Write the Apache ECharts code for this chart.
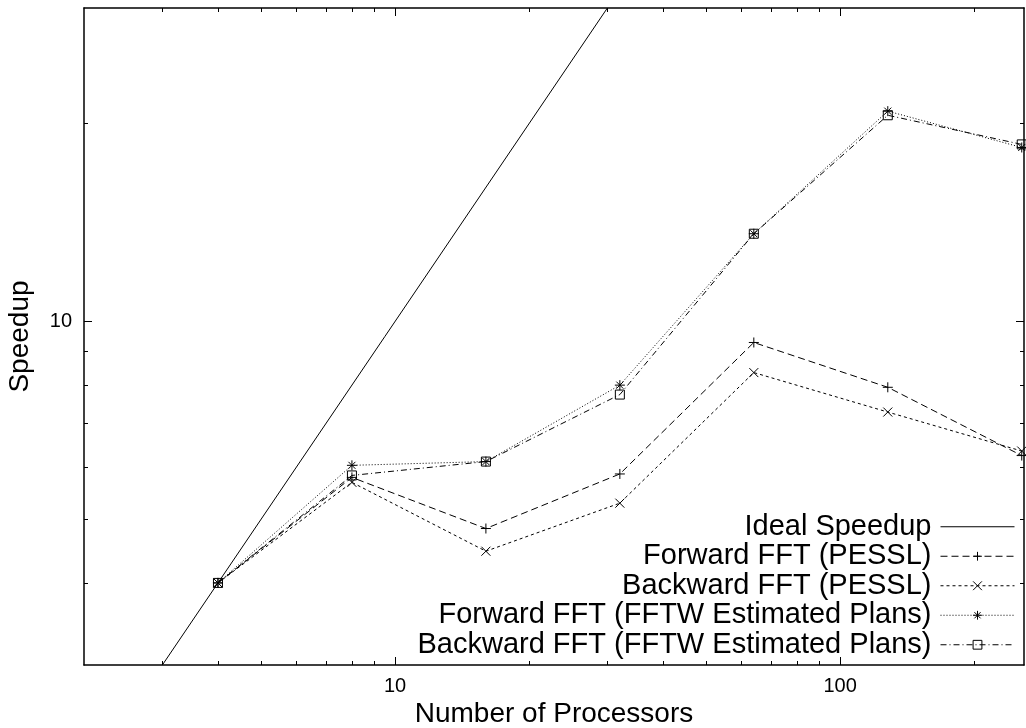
<!DOCTYPE html>
<html>
<head>
<meta charset="utf-8">
<script src="https://cdn.jsdelivr.net/npm/echarts@6/dist/echarts.min.js"></script>
<style>
html,body{margin:0;padding:0;background:#fff;}
#chart{width:1026px;height:728px;}
</style>
</head>
<body>
<div id="chart"></div>
<script>
// ---- data ----
const procs = [4, 8, 16, 32, 64, 128, 256];
const fwdPessl = [4.0, 5.79, 4.84, 5.86, 9.29, 7.94, 6.25];
const bwdPessl = [4.0, 5.69, 4.47, 5.29, 8.36, 7.28, 6.35];
const fwdFftw  = [4.0, 6.04, 6.12, 8.0, 13.6, 20.9, 18.4];
const bwdFftw  = [4.0, 5.83, 6.12, 7.74, 13.6, 20.6, 18.6];
const idealX = [3, 30];
const seriesNames = ['Ideal Speedup', 'Forward FFT (PESSL)', 'Backward FFT (PESSL)',
  'Forward FFT (FFTW Estimated Plans)', 'Backward FFT (FFTW Estimated Plans)'];
const xMajor = [10, 100];
const xMinor = [3, 4, 5, 6, 7, 8, 9, 20, 30, 40, 50, 60, 70, 80, 90, 200];
const yMajor = [10];
const yMinor = [4, 5, 6, 7, 8, 9, 20];
const xTitle = 'Number of Processors';
const yTitle = 'Speedup';

const FONT = '"Liberation Sans", Arial, Helvetica, sans-serif';
const X_MIN = 2, X_MAX = 259, Y_MIN = 3, Y_MAX = 30;

function pairs(xs, ys) { return xs.map((x, i) => [x, ys[i]]); }

function xAx(pos, ticks, len, opts) {
  return Object.assign({
    type: 'log', logBase: 10, min: X_MIN, max: X_MAX, position: pos,
    axisLine: { show: false },
    axisTick: { show: true, inside: true, length: len, customValues: ticks,
      lineStyle: { color: '#000', width: 1 } },
    axisLabel: { show: false },
    splitLine: { show: false }
  }, opts || {});
}
function yAx(pos, ticks, len, opts) {
  return Object.assign({
    type: 'log', logBase: 10, min: Y_MIN, max: Y_MAX, position: pos,
    axisLine: { show: false },
    axisTick: { show: true, inside: true, length: len, customValues: ticks,
      lineStyle: { color: '#000', width: 1 } },
    axisLabel: { show: false },
    splitLine: { show: false }
  }, opts || {});
}

const lineBorder = { show: true, onZero: false, lineStyle: { color: '#000', width: 1.5 } };

const option = {
  animation: false,
  backgroundColor: '#fff',
  textStyle: { fontFamily: FONT },
  grid: { left: 84, right: 2, top: 8, bottom: 63, containLabel: false, outerBoundsMode: 'none' },
  xAxis: [
    xAx('bottom', xMajor, 8, {
      axisLine: lineBorder,
      axisLabel: { show: true, customValues: xMajor, fontSize: 20, color: '#000',
        fontFamily: FONT, margin: 11 },
      name: xTitle, nameLocation: 'middle', nameGap: 35, nameMoveOverlap: false,
      nameTextStyle: { fontSize: 28, color: '#000', fontFamily: FONT }
    }),
    xAx('bottom', xMinor, 4),
    xAx('top', xMajor, 8, { axisLine: lineBorder }),
    xAx('top', xMinor, 4)
  ],
  yAxis: [
    yAx('left', yMajor, 8, {
      axisLine: lineBorder,
      axisLabel: { show: true, customValues: yMajor, fontSize: 20, color: '#000',
        fontFamily: FONT, margin: 12 },
      name: yTitle, nameLocation: 'middle', nameGap: 50, nameRotate: 90, nameMoveOverlap: false,
      nameTextStyle: { fontSize: 28, color: '#000', fontFamily: FONT }
    }),
    yAx('left', yMinor, 4),
    yAx('right', yMajor, 8, { axisLine: lineBorder }),
    yAx('right', yMinor, 4)
  ],
  legend: {
    orient: 'vertical', right: 6, top: 507, align: 'right',
    itemWidth: 74, itemHeight: 11, itemGap: 0,
    lineStyle: { width: 1 },
    itemStyle: { borderWidth: 1 },
    textStyle: { fontSize: 29, color: '#000', fontFamily: FONT, lineHeight: 29.5,
      padding: [0, 4, 0, 0] },
    data: seriesNames
  },
  series: [
    {
      name: seriesNames[0], type: 'line', showSymbol: false,
      symbol: 'path://M0,0L10,10', symbolSize: 1,
      data: pairs(idealX, idealX),
      lineStyle: { color: '#000', width: 1, type: 'solid' },
      itemStyle: { color: 'rgba(0,0,0,0)', borderColor: 'rgba(0,0,0,0)', borderWidth: 0 }
    },
    {
      name: seriesNames[1], type: 'line', data: pairs(procs, fwdPessl),
      symbol: 'path://M0,5L10,5M5,0L5,10', symbolSize: 10,
      lineStyle: { color: '#000', width: 1, type: [7, 4] },
      itemStyle: { color: '#000', borderColor: '#000', borderWidth: 1 }
    },
    {
      name: seriesNames[2], type: 'line', data: pairs(procs, bwdPessl),
      symbol: 'path://M0,0L10,10M10,0L0,10', symbolSize: 9,
      lineStyle: { color: '#000', width: 1, type: [3, 3] },
      itemStyle: { color: '#000', borderColor: '#000', borderWidth: 1 }
    },
    {
      name: seriesNames[3], type: 'line', data: pairs(procs, fwdFftw),
      symbol: 'path://M0,5L10,5M5,0L5,10M1.5,1.5L8.5,8.5M8.5,1.5L1.5,8.5', symbolSize: 10,
      lineStyle: { color: '#000', width: 1, type: [1, 2] },
      itemStyle: { color: '#000', borderColor: '#000', borderWidth: 1 }
    },
    {
      name: seriesNames[4], type: 'line', data: pairs(procs, bwdFftw),
      symbol: 'path://M0,0L10,0L10,10L0,10Z', symbolSize: 9,
      lineStyle: { color: '#000', width: 1, type: [6, 3, 1, 3] },
      itemStyle: { color: 'rgba(0,0,0,0)', borderColor: '#000', borderWidth: 1 }
    }
  ]
};

const chart = echarts.init(document.getElementById('chart'), null, { renderer: 'canvas' });
chart.setOption(option);
</script>
</body>
</html>
